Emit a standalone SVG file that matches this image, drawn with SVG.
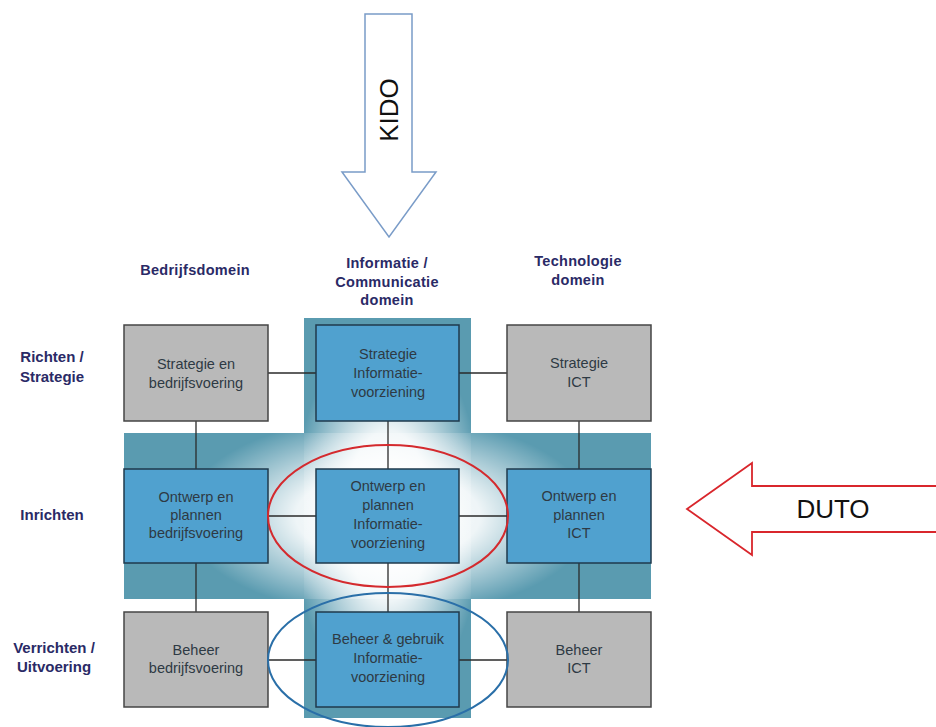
<svg xmlns="http://www.w3.org/2000/svg" width="936" height="727" viewBox="0 0 936 727">
<defs>
<style>
.hdr{font-family:"Liberation Sans",Arial,sans-serif;font-size:14.5px;font-weight:bold;fill:#2a2a66;text-anchor:middle;letter-spacing:0.3px}
.row{font-family:"Liberation Sans",Arial,sans-serif;font-size:15px;font-weight:bold;fill:#2a2a66;text-anchor:middle}
.bt{font-family:"Liberation Sans",Arial,sans-serif;font-size:14.5px;fill:#2e3a44;text-anchor:middle}
.gray{fill:#b9b9b9;stroke:#454545;stroke-width:1.5}
.blue{fill:#50a1cf;stroke:#1f3a4c;stroke-width:1.5}
.conn line{stroke:#2a2a2a;stroke-width:1.3}
.big{font-family:"Liberation Sans",Arial,sans-serif;font-size:26px;fill:#111}
</style>
<radialGradient id="bandGlow" gradientUnits="userSpaceOnUse" cx="0" cy="0" r="1" gradientTransform="translate(388 516) scale(205 100)">
<stop offset="0" stop-color="#ffffff" stop-opacity="1"/>
<stop offset="0.45" stop-color="#ffffff" stop-opacity="0.9"/>
<stop offset="1" stop-color="#ffffff" stop-opacity="0"/>
</radialGradient>
<radialGradient id="colGlow" gradientUnits="userSpaceOnUse" cx="0" cy="0" r="1" gradientTransform="translate(388 516) scale(95 190)">
<stop offset="0" stop-color="#ffffff" stop-opacity="1"/>
<stop offset="0.45" stop-color="#ffffff" stop-opacity="0.9"/>
<stop offset="1" stop-color="#ffffff" stop-opacity="0"/>
</radialGradient>
</defs>
<rect width="936" height="727" fill="#ffffff"/>

<g id="background">
<rect x="124" y="433" width="527" height="166" fill="#5a9bb0"/>
<rect x="304" y="318" width="167" height="400" fill="#5a9bb0"/>
<rect x="124" y="433" width="527" height="166" fill="url(#bandGlow)"/>
<rect x="304" y="318" width="167" height="400" fill="url(#colGlow)"/>
</g>

<g id="kido">
<polygon points="365,14 412,14 412,172 436,172 389,237 342,172 365,172" fill="#ffffff" stroke="#7a9cc8" stroke-width="1.5"/>
<text class="big" transform="translate(398 110) rotate(-90)" text-anchor="middle">KIDO</text>
</g>

<g id="duto">
<polygon points="940,486 752,486 752,463 687,509 752,555 752,532 940,532" fill="#ffffff" stroke="#d9262c" stroke-width="1.8"/>
<text class="big" x="833" y="518" text-anchor="middle">DUTO</text>
</g>

<g id="headers">
<text class="hdr" x="195" y="275">Bedrijfsdomein</text>
<text class="hdr" x="387" y="268">Informatie /</text>
<text class="hdr" x="387" y="287">Communicatie</text>
<text class="hdr" x="387" y="305">domein</text>
<text class="hdr" x="578" y="266">Technologie</text>
<text class="hdr" x="578" y="285">domein</text>
</g>

<g id="rowlabels">
<text class="row" x="52" y="362">Richten /</text>
<text class="row" x="52" y="382">Strategie</text>
<text class="row" x="52" y="520">Inrichten</text>
<text class="row" x="54" y="653">Verrichten /</text>
<text class="row" x="54" y="672">Uitvoering</text>
</g>

<g id="connectors" class="conn">
<line x1="196" y1="421" x2="196" y2="469"/>
<line x1="196" y1="563" x2="196" y2="612"/>
<line x1="388" y1="421" x2="388" y2="469"/>
<line x1="388" y1="563" x2="388" y2="612"/>
<line x1="579" y1="421" x2="579" y2="469"/>
<line x1="579" y1="563" x2="579" y2="612"/>
<line x1="268" y1="373" x2="316" y2="373"/>
<line x1="459" y1="373" x2="507" y2="373"/>
<line x1="268" y1="516" x2="316" y2="516"/>
<line x1="459" y1="516" x2="507" y2="516"/>
<line x1="268" y1="660" x2="316" y2="660"/>
<line x1="459" y1="660" x2="507" y2="660"/>
</g>

<g id="n-strategie-bedrijf">
<rect class="gray" x="124" y="325" width="144" height="96"/>
<text class="bt" x="196" y="369">Strategie en</text>
<text class="bt" x="196" y="388">bedrijfsvoering</text>
</g>
<g id="n-strategie-iv">
<rect class="blue" x="316" y="325" width="143" height="96"/>
<text class="bt" x="388" y="359">Strategie</text>
<text class="bt" x="388" y="378">Informatie-</text>
<text class="bt" x="388" y="397">voorziening</text>
</g>
<g id="n-strategie-ict">
<rect class="gray" x="507" y="325" width="144" height="96"/>
<text class="bt" x="579" y="368">Strategie</text>
<text class="bt" x="579" y="387">ICT</text>
</g>

<g id="n-ontwerp-bedrijf">
<rect class="blue" x="124" y="469" width="144" height="94"/>
<text class="bt" x="196" y="502">Ontwerp en</text>
<text class="bt" x="196" y="520">plannen</text>
<text class="bt" x="196" y="538">bedrijfsvoering</text>
</g>
<g id="n-ontwerp-iv">
<rect class="blue" x="316" y="469" width="143" height="94"/>
<text class="bt" x="388" y="491">Ontwerp en</text>
<text class="bt" x="388" y="510">plannen</text>
<text class="bt" x="388" y="529">Informatie-</text>
<text class="bt" x="388" y="548">voorziening</text>
</g>
<g id="n-ontwerp-ict">
<rect class="blue" x="507" y="469" width="144" height="94"/>
<text class="bt" x="579" y="501">Ontwerp en</text>
<text class="bt" x="579" y="520">plannen</text>
<text class="bt" x="579" y="538">ICT</text>
</g>

<g id="n-beheer-bedrijf">
<rect class="gray" x="124" y="612" width="144" height="95"/>
<text class="bt" x="196" y="655">Beheer</text>
<text class="bt" x="196" y="673">bedrijfsvoering</text>
</g>
<g id="n-beheer-iv">
<rect class="blue" x="316" y="612" width="143" height="95"/>
<text class="bt" x="388" y="644">Beheer &amp; gebruik</text>
<text class="bt" x="388" y="663">Informatie-</text>
<text class="bt" x="388" y="682">voorziening</text>
</g>
<g id="n-beheer-ict">
<rect class="gray" x="507" y="612" width="144" height="95"/>
<text class="bt" x="579" y="655">Beheer</text>
<text class="bt" x="579" y="673">ICT</text>
</g>

<g id="ellipses" fill="none" stroke-width="2">
<ellipse cx="388" cy="516" rx="120" ry="71" stroke="#d42a2e"/>
<ellipse cx="388" cy="660" rx="120" ry="67" stroke="#2a6fa8"/>
</g>
</svg>
